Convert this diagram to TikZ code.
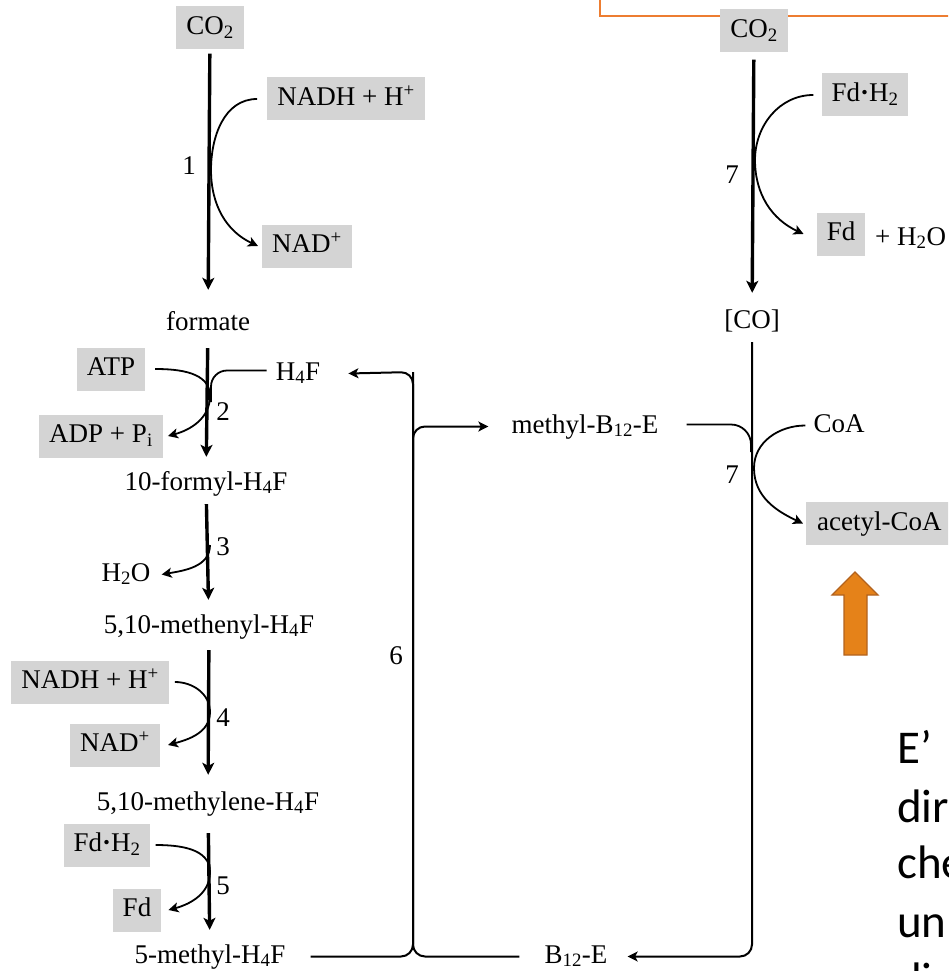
\documentclass[tikz,border=0pt]{standalone}
\usepackage{fontspec}
\setmainfont{Liberation Serif}
\newfontfamily\slidefont{Carlito}
\usetikzlibrary{arrows.meta}

\definecolor{boxgray}{RGB}{212,212,212}
\definecolor{frameorange}{RGB}{237,125,49}
\definecolor{arrowfill}{RGB}{229,130,25}
\definecolor{arrowedge}{RGB}{178,98,30}

\begin{document}
\begin{tikzpicture}[x=1pt, y=-1pt,
  font=\fontsize{27}{32}\selectfont,
  box/.style={fill=boxgray, inner xsep=10pt, inner ysep=9pt, text height=19pt, text depth=6pt},
  met/.style={inner xsep=2pt, inner ysep=8pt, text height=19pt, text depth=6pt},
  mainarr/.style={line width=3.4pt, -{Stealth[length=12pt, width=12pt, inset=3pt]}, shorten <=4pt, shorten >=6pt},
  sidearr/.style={line width=1.8pt, -{Stealth[length=10pt, width=10pt, inset=2.5pt]}},
  sideline/.style={line width=1.8pt},
  loopline/.style={line width=2pt, rounded corners=12pt},
  looparr/.style={loopline, -{Stealth[length=10pt, width=10pt, inset=2.5pt]}},
]

\useasboundingbox (0,0) rectangle (948,971);
\clip (0,0) rectangle (948,971);

% Orange frame at the top
\draw[frameorange, line width=2pt] (600,-10) rectangle (960,16);

% Left pathway: CO2 -> 5-methyl-H4F
\node[box] (co2a) at (210,28) {CO\textsubscript{2}};
\node[met] (formate) at (208,323.5) {formate};
\node[met] (formyl) at (206,483.5) {10-formyl-H\textsubscript{4}F};
\node[met] (methenyl) at (209,626.5) {5,10-methenyl-H\textsubscript{4}F};
\node[met] (methylene) at (208,803.5) {5,10-methylene-H\textsubscript{4}F};
\node[met] (mh4f) at (210,956.5) {5-methyl-H\textsubscript{4}F};

\draw[mainarr, shorten >=13pt] (co2a) -- (formate);
\draw[mainarr] (formate) -- (formyl);
\draw[mainarr, shorten <=0pt] (formyl) -- (methenyl);
\draw[mainarr, shorten <=3pt, shorten >=8pt] (methenyl) -- (methylene);
\draw[mainarr, shorten <=9pt] (methylene) -- (mh4f);

% Step 1
\node[box] (nadh1) at (346,99) {NADH + H\textsuperscript{+}};
\node[box] (nad1) at (307,246) {NAD\textsuperscript{+}};
\node (s1) at (189,166) {1};
\coordinate (t1) at (211,170);
\draw[sidearr] ([xshift=-10pt]nadh1.west) to[out=180, in=90] (t1)
  to[out=-90, in=155] ([xshift=-4pt]nad1.west);

% Step 2
\node[box] (atp) at (111,369) {ATP};
\node[box] (adp) at (101,436) {ADP + P\textsubscript{i}};
\node[met] (h4fa) at (298,373.5) {H\textsubscript{4}F};
\node (s2) at (223,412) {2};
\coordinate (t2) at (210,396);
\coordinate (t2b) at (211,402);
\draw[sidearr] ([xshift=10pt]atp.east) to[out=0, in=90] (t2)
  to[out=-90, in=15] ([xshift=5pt]adp.east);
\draw[sideline, rounded corners=16pt] ([xshift=-7pt, yshift=3pt]h4fa.west) -| (t2b);

% Step 3
\node[met] (h2o) at (126,574.5) {H\textsubscript{2}O};
\node (s3) at (223,547) {3};
\coordinate (t3) at (210,545);
\draw[sidearr] (t3) to[out=-90, in=10] ([xshift=9pt]h2o.east);

% Step 4
\node[box] (nadh4) at (90,682) {NADH + H\textsuperscript{+}};
\node[box] (nad4) at (115,745) {NAD\textsuperscript{+}};
\node (s4) at (223,718) {4};
\coordinate (t4) at (210,712);
\draw[sidearr] ([xshift=6pt]nadh4.east) to[out=0, in=90] (t4)
  to[out=-90, in=15] ([xshift=8pt]nad4.east);

% Step 5
\node[box] (fdh5) at (107,845) {Fd{\bfseries ·}H\textsubscript{2}};
\node[box] (fd5) at (137,910) {Fd};
\node (s5) at (223,886) {5};
\coordinate (t5) at (210,872);
\draw[sidearr] ([xshift=5pt]fdh5.east) to[out=0, in=90] (t5)
  to[out=-90, in=15] ([xshift=7pt]fd5.east);

% Step 6: methyl transfer loop
\node[met] (methylb) at (585,426.5) {methyl-B\textsubscript{12}-E};
\node[met] (b12e) at (576,956.5) {B\textsubscript{12}-E};
\node (s6) at (396,656) {6};
\coordinate (c6) at (413,372);
\coordinate (j6) at (413,470);
\draw[looparr] ([xshift=23pt]mh4f.east) -| (c6) -- ([xshift=26pt]h4fa.east);
\draw[loopline] ([xshift=-23pt]b12e.west) -| (c6);
\draw[looparr] (j6) |- ([xshift=-21pt]methylb.west);

% Right pathway: CO2 -> [CO] -> acetyl-CoA
\node[box] (co2b) at (754,31) {CO\textsubscript{2}};
\node[met] (co) at (752,321.5) {[CO]};
\draw[mainarr, shorten <=7pt, shorten >=8pt] (co2b) -- (co);

\node[box] (fdh7) at (865,95) {Fd{\bfseries ·}H\textsubscript{2}};
\node[box] (fd7) at (841,234) {Fd};
\node[met, anchor=west] (h2ob) at (873,238.5) {+ H\textsubscript{2}O};
\node (s7a) at (732,175) {7};
\coordinate (t7) at (755,160);
\draw[sidearr] ([xshift=-8pt]fdh7.west) to[out=180, in=90] (t7)
  to[out=-90, in=155] ([xshift=-13pt]fd7.west);

\node[met] (coa) at (839,425.5) {CoA};
\node[box, anchor=west, inner xsep=11pt] (acoa) at (806,523.5) {acetyl-CoA};
\node (s7b) at (732,475) {7};
\coordinate (t7b) at (754,468);
\coordinate (t7m) at (751,452);
\draw[sideline, rounded corners=20pt] ([xshift=26pt, yshift=2pt]methylb.east) -| (t7m);
\draw[sidearr] ([xshift=-6pt]coa.west) to[out=180, in=90] (t7b)
  to[out=-90, in=155] ([xshift=-3pt]acoa.west);
\draw[looparr] (co) |- ([xshift=18pt]b12e.east);

% Orange block arrow
\draw[arrowedge, fill=arrowfill, line width=1.2pt]
  (855,572) -- (878,595) -- (867,595) -- (867,655) -- (844,655) -- (844,595) -- (832,595) -- cycle;

% Slide text, cut at the edge
\foreach \w/\yy [count=\i] in {E’/763, dir/822, che/878, un/937, di/995}
  \node[anchor=base west, inner sep=0pt, font=\slidefont\fontsize{47}{52}\selectfont] (line\i) at (897,\yy) {\w};

\end{tikzpicture}
\end{document}
